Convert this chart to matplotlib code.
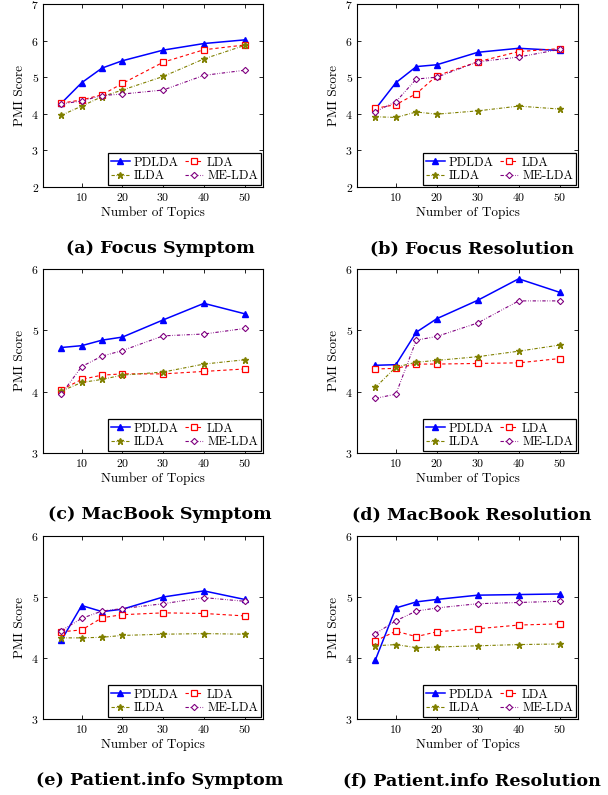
import numpy as np
import matplotlib
matplotlib.use("Agg")
import matplotlib.pyplot as plt

plt.rcParams["font.family"] = ["cmr10", "DejaVu Serif"]
plt.rcParams["axes.formatter.use_mathtext"] = True
plt.rcParams["mathtext.fontset"] = "cm"

topics = [5, 10, 15, 20, 30, 40, 50]
methods = ["PDLDA", "LDA", "ILDA", "ME-LDA"]

# PMI scores per panel
focus_symptom = {
    "PDLDA": [4.29, 4.85, 5.25, 5.45, 5.74, 5.92, 6.02],
    "LDA": [4.29, 4.38, 4.52, 4.83, 5.41, 5.75, 5.88],
    "ILDA": [3.96, 4.21, 4.47, 4.65, 5.02, 5.50, 5.87],
    "ME-LDA": [4.27, 4.35, 4.50, 4.54, 4.65, 5.05, 5.19],
}
focus_resolution = {
    "PDLDA": [4.13, 4.85, 5.29, 5.34, 5.68, 5.79, 5.73],
    "LDA": [4.15, 4.25, 4.55, 5.04, 5.42, 5.70, 5.78],
    "ILDA": [3.92, 3.90, 4.05, 3.99, 4.08, 4.21, 4.13],
    "ME-LDA": [4.06, 4.33, 4.95, 5.00, 5.42, 5.55, 5.76],
}
macbook_symptom = {
    "PDLDA": [4.72, 4.75, 4.84, 4.89, 5.17, 5.44, 5.27],
    "LDA": [4.03, 4.20, 4.27, 4.29, 4.29, 4.33, 4.37],
    "ILDA": [4.01, 4.15, 4.20, 4.27, 4.32, 4.45, 4.52],
    "ME-LDA": [3.96, 4.41, 4.58, 4.67, 4.91, 4.94, 5.03],
}
macbook_resolution = {
    "PDLDA": [4.43, 4.44, 4.97, 5.19, 5.49, 5.84, 5.62],
    "LDA": [4.37, 4.38, 4.45, 4.45, 4.46, 4.47, 4.54],
    "ILDA": [4.07, 4.40, 4.48, 4.51, 4.57, 4.66, 4.76],
    "ME-LDA": [3.89, 3.96, 4.84, 4.90, 5.12, 5.48, 5.48],
}
patient_symptom = {
    "PDLDA": [4.29, 4.86, 4.76, 4.80, 5.00, 5.10, 4.96],
    "LDA": [4.43, 4.46, 4.66, 4.71, 4.74, 4.73, 4.69],
    "ILDA": [4.33, 4.33, 4.34, 4.37, 4.39, 4.40, 4.39],
    "ME-LDA": [4.45, 4.65, 4.77, 4.81, 4.89, 4.99, 4.93],
}
patient_resolution = {
    "PDLDA": [3.97, 4.82, 4.92, 4.96, 5.03, 5.04, 5.05],
    "LDA": [4.28, 4.44, 4.35, 4.43, 4.48, 4.54, 4.56],
    "ILDA": [4.20, 4.22, 4.17, 4.18, 4.20, 4.22, 4.23],
    "ME-LDA": [4.40, 4.61, 4.77, 4.82, 4.89, 4.91, 4.93],
}

captions = ["(a) Focus Symptom", "(b) Focus Resolution",
            "(c) MacBook Symptom", "(d) MacBook Resolution",
            "(e) Patient.info Symptom", "(f) Patient.info Resolution"]
panels = [focus_symptom, focus_resolution, macbook_symptom,
          macbook_resolution, patient_symptom, patient_resolution]
ylims = [(2, 7), (2, 7), (3, 6), (3, 6), (3, 6), (3, 6)]

styles = {
    "PDLDA": dict(color=(0, 0, 1), ls="-", lw=1.1, marker="^", ms=4,
                  mfc=(0, 0, 1), mec=(0, 0, 1)),
    "LDA": dict(color=(1, 0, 0), ls=(0, (3, 2.5)), lw=0.8, marker="s", ms=5,
                mfc="white", mec=(1, 0, 0), mew=0.9),
    "ILDA": dict(color=(0.5, 0.5, 0), ls=(0, (3, 1.5, 0.6, 1.5)), lw=0.8,
                 marker="*", ms=4.5, mfc=(0.5, 0.5, 0), mec=(0.5, 0.5, 0)),
    "ME-LDA": dict(color=(0.5, 0, 0.5), ls=(0, (3, 1.5, 0.6, 1.5, 0.6, 1.5)),
                   lw=0.8, marker="D", ms=3.2, mfc="white",
                   mec=(0.5, 0, 0.5), mew=0.8),
}
# legend rows: PDLDA LDA / ILDA ME-LDA (matplotlib fills columns first)
legend_order = ["PDLDA", "ILDA", "LDA", "ME-LDA"]

W, H = 608, 795
fig = plt.figure(figsize=(W / 100, H / 100), dpi=100)

col_x = [(43, 263), (357, 578)]
row_y = [(4, 187), (269, 453), (536, 719)]
cap_x = [160, 472]
cap_y = [253, 519, 785]

for i, (data, cap, yl) in enumerate(zip(panels, captions, ylims)):
    r, c = divmod(i, 2)
    l, rr = col_x[c]
    t, b = row_y[r]
    ax = fig.add_axes([l / W, 1 - b / H, (rr - l) / W, (b - t) / H])
    lines = {}
    for m in methods:
        lines[m], = ax.plot(topics, data[m], label=m, **styles[m])
    ax.set_xlim(0.5, 54.5)
    ax.set_ylim(*yl)
    ax.set_xticks([10, 20, 30, 40, 50])
    ax.set_yticks(np.arange(yl[0], yl[1] + 1))
    ax.tick_params(direction="in", top=True, right=True, labelsize=8.5,
                   length=3, width=0.6, pad=3)
    for s in ax.spines.values():
        s.set_linewidth(0.8)
    ax.set_xlabel("Number of Topics", fontsize=9.5, labelpad=2)
    ax.set_ylabel("PMI Score", fontsize=9.5, labelpad=4)
    leg = ax.legend([lines[m] for m in legend_order], legend_order,
                    loc="lower right", ncol=2, fontsize=9, frameon=True,
                    fancybox=False, edgecolor="black", framealpha=1,
                    handlelength=1.5, handletextpad=0.3, columnspacing=0.5,
                    borderpad=0.25, labelspacing=0.1, borderaxespad=0.15)
    leg.get_frame().set_linewidth(0.9)
    fig.text(cap_x[c] / W, 1 - cap_y[r] / H, cap, ha="center", va="baseline",
             fontsize=12.6, fontweight="bold", family="DejaVu Serif")

fig.savefig("out.png", dpi=100)
